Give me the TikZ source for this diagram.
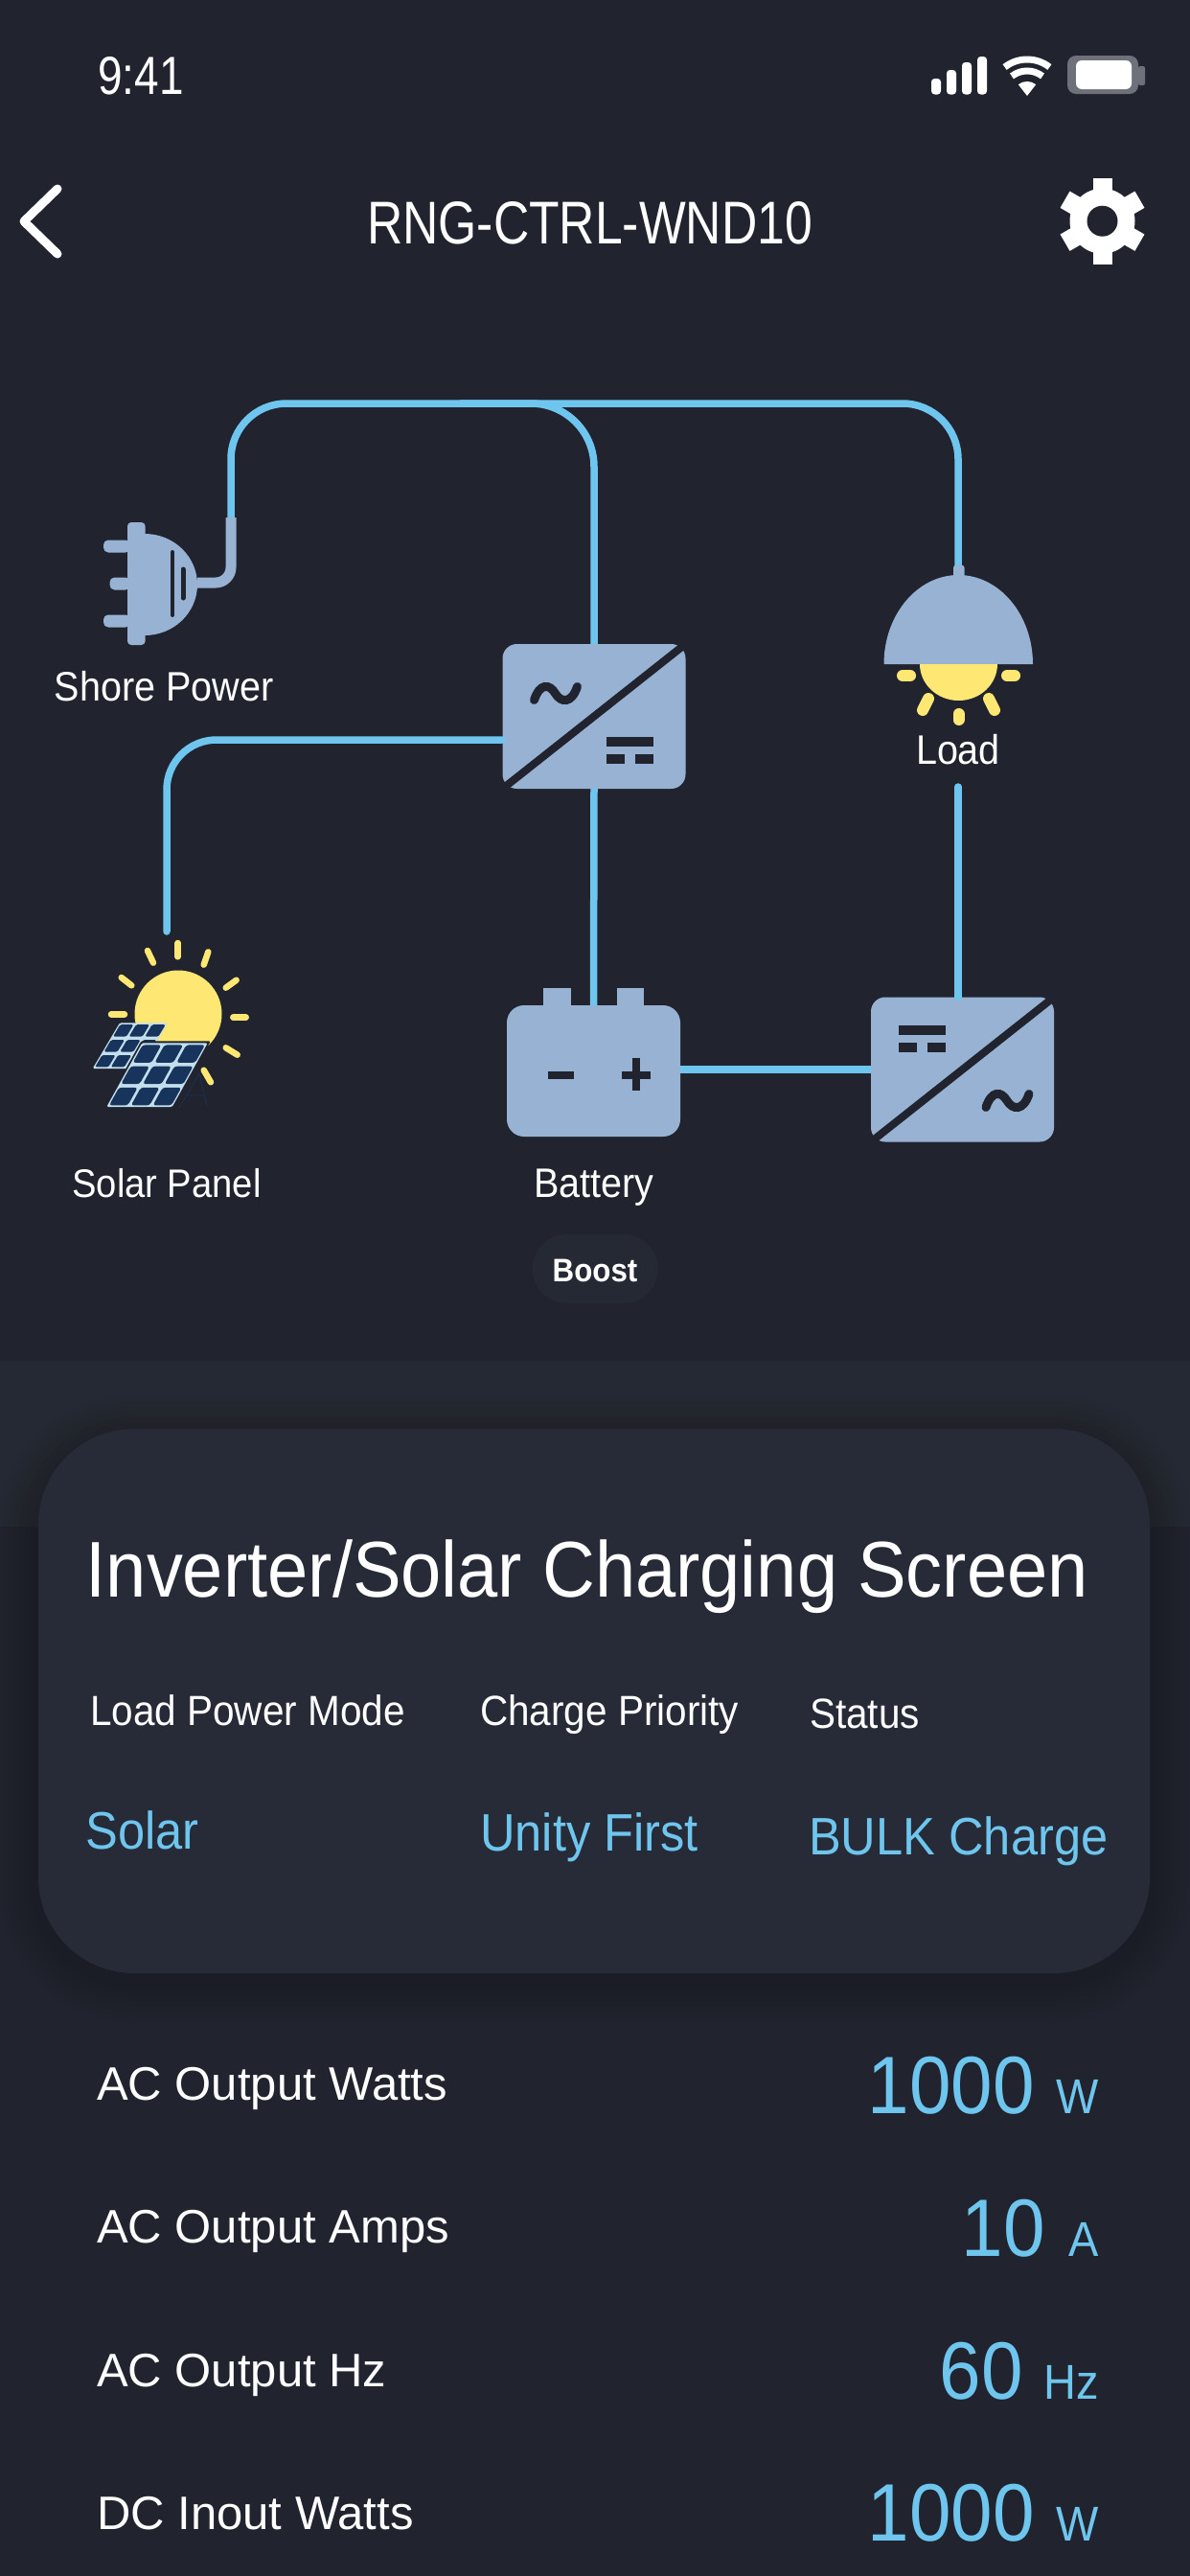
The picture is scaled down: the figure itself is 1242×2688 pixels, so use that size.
\documentclass[tikz,border=0pt]{standalone}
\usepackage{fontspec}
\setmainfont{Liberation Sans}
\newfontfamily\labelfont[FakeStretch=0.92]{Liberation Sans}
\newfontfamily\narrowfont[FakeStretch=0.82]{Liberation Sans}
\definecolor{screenbg}{HTML}{21242F}
\definecolor{bandbg}{HTML}{252934}
\definecolor{cardbg}{HTML}{272B37}
\definecolor{iconblue}{HTML}{97B2D2}
\definecolor{wireblue}{HTML}{6EC6EE}
\definecolor{sunyellow}{HTML}{FFE773}
\definecolor{panellight}{HTML}{C3DEEC}
\definecolor{panelnavy}{HTML}{17355C}
\definecolor{batframe}{HTML}{6F717A}

\begin{document}
\begin{tikzpicture}[x=1pt, y=-1pt]
    \tikzstyle{converter}=[
        fill = iconblue,
        rectangle,
        rounded corners = 15pt,
        minimum width = 191pt,
        minimum height = 151pt,
        inner sep = 0pt
    ]
    \tikzstyle{battery body}=[
        fill = iconblue,
        rectangle,
        rounded corners = 18pt,
        minimum width = 181pt,
        minimum height = 137pt,
        inner sep = 0pt
    ]
    \tikzstyle{wire}=[draw = wireblue, line width = 7.5pt]
    \tikzstyle{mark line}=[draw = screenbg, line width = 8pt]
    \tikzstyle{ray}=[draw = sunyellow, line cap = round]
    \tikzstyle{icon text}=[white, inner sep = 0pt, anchor = base, font = \labelfont\fontsize{43}{43}\selectfont]
    \tikzstyle{head text}=[white, inner sep = 0pt, anchor = base west, font = \labelfont\fontsize{44}{44}\selectfont]
    \tikzstyle{mode text}=[wireblue, inner sep = 0pt, anchor = base west, font = \labelfont\fontsize{55}{55}\selectfont]
    \tikzstyle{row text}=[white, inner sep = 0pt, anchor = base west, font = \fontsize{49}{49}\selectfont]
    \tikzstyle{row value}=[wireblue, inner sep = 0pt, anchor = base east, font = \labelfont\fontsize{85}{85}\selectfont]
    \tikzstyle{row unit}=[wireblue, inner sep = 0pt, anchor = base east, font = \labelfont\fontsize{51}{51}\selectfont]

    \useasboundingbox (0, 0) rectangle (1242, 2688);
    \fill[screenbg] (0, 0) rectangle (1242, 2688);
    \fill[bandbg] (0, 1420) rectangle (1242, 1593);

    \foreach \s in {44, 38, 32, 26, 20, 14, 8}
        \fill[black, opacity = 0.025, rounded corners = 100pt + \s pt]
            (40 - \s, 1491 - \s + 8) rectangle (1200 + \s, 2059 + \s + 8);
    \fill[cardbg, rounded corners = 100pt] (40, 1491) rectangle (1200, 2059);

    \node[white, inner sep = 0pt, anchor = base west, font = \narrowfont\fontsize{56}{56}\selectfont] (clock) at (102, 98) {9:41};
    \foreach \bx/\by in {972/82, 988/73, 1004/65, 1020/59}
        \fill[white, rounded corners = 3.5pt] (\bx, \by) rectangle (\bx + 10, 98.5);
    \fill[white] (1072, 100) -- ++(52:15pt) arc[start angle = 52, end angle = 128, radius = 15pt] -- cycle;
    \draw[white, line width = 7pt] (1072, 100) ++(52:26pt) arc[start angle = 52, end angle = 128, radius = 26pt];
    \draw[white, line width = 7pt] (1072, 100) ++(52:38pt) arc[start angle = 52, end angle = 128, radius = 38pt];
    \fill[batframe, rounded corners = 9pt] (1114, 58) rectangle (1188, 98);
    \fill[batframe, rounded corners = 2pt] (1188, 69) rectangle (1195, 89);
    \fill[white, rounded corners = 6pt] (1123, 63) rectangle (1181, 93);

    \draw[white, line width = 9pt, line cap = round, line join = round] (60, 197) -- (25, 231) -- (60, 265);
    \node[white, inner sep = 0pt, font = \narrowfont\fontsize{63}{63}\selectfont, anchor = base] (title) at (615.5, 254) {RNG-CTRL-WND10};

    \foreach \a in {30, 90, 150, 210, 270, 330}
        \draw[white, line width = 20pt] (1150.5, 230.7) ++(\a:28pt) -- ++(\a:17pt);
    \fill[white] (1150.5, 230.7) circle[radius = 34pt];
    \fill[screenbg] (1150.5, 230.7) circle[radius = 16pt];

    \node[converter] (acin)    at (620, 747.5)  {};
    \node[converter] (acout)   at (1004.5, 1116) {};
    \node[battery body] (battery) at (619.5, 1117.5) {};

    \coordinate (plugtop)  at (241, 540);
    \coordinate (plugend)  at (206, 608);
    \coordinate (bus)      at (620, 421);
    \coordinate (branch)   at (480, 421);
    \coordinate (lamp)     at (1000, 590);
    \coordinate (loadin)   at (1000, 821);
    \coordinate (solarin)  at (524, 772);
    \coordinate (solar)    at (174, 972);

    \draw[wire, rounded corners = 58pt] (plugtop) |- (bus) -| (lamp);
    \draw[wire, rounded corners = 66pt] (branch) -| (acin.north);
    \draw[wire, rounded corners = 52pt, line cap = round] (solar) |- (solarin);
    \draw[wire] (acin.south) -- (battery.north);
    \draw[wire] (battery.east |- acout.west) -- (acout.west);
    \draw[wire, line cap = round] (loadin) -- (loadin |- acout.north);

    \draw[draw = iconblue, line width = 11pt, rounded corners = 16pt] (plugtop) |- (plugend);
    \fill[iconblue, rounded corners = 4pt] (133, 545) rectangle (151.6, 673);
    \fill[iconblue] (151, 557) arc[start angle = 90, end angle = -90, x radius = 55pt, y radius = 53pt] -- cycle;
    \foreach \px/\py in {108/570, 114.5/609, 108/648}
        \fill[iconblue, rounded corners = 5pt] (\px, \py - 6.5) rectangle (136, \py + 6.5);
    \draw[screenbg, line width = 4pt, line cap = round] (180, 576) -- (180, 642);
    \draw[screenbg, line width = 5pt, line cap = round] (191, 594) -- (191, 624);
    \node[icon text] (shorelabel) at (171, 731.7) {Shore Power};

    \draw[mark line] (acin.north east) -- (acin.south west);
    \draw[mark line] (acout.north east) -- (acout.south west);
    \foreach \wx/\wy in {557.5/716.5, 1029/1141.5}
        \draw[screenbg, line width = 9pt, line cap = round]
            (\wx, \wy + 14) .. controls (\wx + 6, \wy - 4) and (\wx + 16, \wy - 3) .. (\wx + 22, \wy + 7)
            .. controls (\wx + 28, \wy + 17) and (\wx + 39, \wy + 18) .. (\wx + 45, \wy);
    \foreach \dx/\dy in {633/769, 937.5/1070} {
        \fill[screenbg] (\dx, \dy) rectangle (\dx + 49, \dy + 10);
        \fill[screenbg] (\dx, \dy + 18) rectangle (\dx + 19, \dy + 28);
        \fill[screenbg] (\dx + 30, \dy + 18) rectangle (\dx + 49, \dy + 28);
    }

    \fill[iconblue] (567, 1030.5) rectangle (595.5, 1052);
    \fill[iconblue] (644, 1030.5) rectangle (672, 1052);
    \draw[mark line] (571.5, 1122) -- (598.5, 1122);
    \draw[mark line] (649, 1121.5) -- (679, 1121.5);
    \draw[mark line] (663.7, 1104) -- (663.7, 1138);
    \node[icon text] (batterylabel) at (620, 1249) {Battery};
    \fill[bandbg, rounded corners = 36pt] (555.6, 1288) rectangle (687, 1360);
    \node[white, inner sep = 0pt, anchor = base, font = \labelfont\bfseries\fontsize{34}{34}\selectfont] (boost) at (621, 1337) {Boost};

    \fill[iconblue, rounded corners = 3pt] (995, 589.5) rectangle (1006.5, 610);
    \fill[iconblue] (922.5, 693) arc[start angle = 180, end angle = 0, x radius = 77.75pt, y radius = 93pt] -- cycle;
    \fill[sunyellow] (960, 693) arc[start angle = 180, end angle = 360, x radius = 40.5pt, y radius = 38pt] -- cycle;
    \foreach \xa/\ya/\xb/\yb in {942/705/950/705, 1051/705/1059/705, 969/729/963/741, 1032/729/1038/741, 1000.5/745/1000.5/751}
        \draw[ray, line width = 12pt] (\xa, \ya) -- (\xb, \yb);
    \node[icon text] (loadlabel) at (1000, 797.6) {Load};

    \fill[sunyellow] (186, 1058) circle[radius = 45.5pt];
    \foreach \xa/\ya/\xb/\yb in {185.7/984/185.7/998.3, 154/992/160/1004.7, 217.3/993.3/212.7/1006.7,
            126.7/1020/137.3/1028.3, 246.7/1022.7/235.7/1030.7, 116/1058.3/130/1058.3,
            243.3/1061.7/256.7/1061.7, 235.7/1093.3/247.7/1100.7, 212.7/1116.7/220/1129.3}
        \draw[ray, line width = 6.5pt] (\xa, \ya) -- (\xb, \yb);
    \draw[panelnavy, opacity = 0.7, line width = 1pt] (187, 1156) -- (208, 1120) -- (216, 1154) (194, 1143) -- (212, 1143);

    \begin{scope}[shift = {(125, 1067.3)}, x = {(50pt, 0pt)}, y = {(-28.3pt, -47.7pt)}]
        \fill[panellight, rounded corners = 1.5pt] (0, 0) -- (1, 0) -- (1, 1) -- (0, 1) -- cycle;
        \foreach \i in {0, 1, 2}
            \foreach \j in {0, 1, 2}
                \fill[panelnavy, rounded corners = 1.5pt] (\i/3 + 0.03, \j/3 + 0.04) -- (\i/3 + 0.31, \j/3 + 0.04)
                    -- (\i/3 + 0.31, \j/3 + 0.3) -- (\i/3 + 0.03, \j/3 + 0.3) -- cycle;
    \end{scope}
    \begin{scope}[shift = {(148.3, 1088.3)}, x = {(68.4pt, 0pt)}, y = {(-37pt, -66.7pt)}]
        \fill[screenbg, rounded corners = 1.5pt] (-0.03, -0.03) -- (1.03, -0.03) -- (1.03, 1.03) -- (-0.03, 1.03) -- cycle;
        \fill[panellight, rounded corners = 1.5pt] (0, 0) -- (1, 0) -- (1, 1) -- (0, 1) -- cycle;
        \foreach \i in {0, 1, 2}
            \foreach \j in {0, 1, 2}
                \fill[panelnavy, rounded corners = 3pt] (\i/3 + 0.025, \j/3 + 0.03) -- (\i/3 + 0.31, \j/3 + 0.03)
                    -- (\i/3 + 0.31, \j/3 + 0.31) -- (\i/3 + 0.025, \j/3 + 0.31) -- cycle;
    \end{scope}
    \node[icon text, font = \labelfont\fontsize{41.5}{41.5}\selectfont] (solarlabel) at (174, 1249) {Solar Panel};

    \node[white, inner sep = 0pt, anchor = base west, font = \labelfont\fontsize{82.5}{82.5}\selectfont] (cardtitle) at (89.5, 1666) {Inverter/Solar Charging Screen};
    \node[head text] (modehead)   at (94, 1800)  {Load Power Mode};
    \node[head text] (priohead)   at (501, 1800) {Charge Priority};
    \node[head text] (statushead) at (845, 1803) {Status};
    \node[mode text] (modeval)    at (89.5, 1929) {Solar};
    \node[mode text] (prioval)    at (501, 1931)  {Unity First};
    \node[mode text] (statusval)  at (844, 1935)  {BULK Charge};

    \node[row text]  (wattslabel) at (101, 2191)   {AC Output Watts};
    \node[row value] (wattsval)   at (1080, 2205)  {1000};
    \node[row unit]  (wattsunit)  at (1147, 2205)  {W};
    \node[row text]  (ampslabel)  at (101, 2340)   {AC Output Amps};
    \node[row value] (ampsval)    at (1091, 2354)  {10};
    \node[row unit]  (ampsunit)   at (1147, 2354)  {A};
    \node[row text]  (hzlabel)    at (101, 2490.5) {AC Output Hz};
    \node[row value] (hzval)      at (1068, 2503)  {60};
    \node[row unit]  (hzunit)     at (1147, 2503)  {Hz};
    \node[row text]  (dclabel)    at (101, 2639.5) {DC Inout Watts};
    \node[row value] (dcval)      at (1080, 2651.5) {1000};
    \node[row unit]  (dcunit)     at (1147, 2651.5) {W};

\end{tikzpicture}
\end{document}
